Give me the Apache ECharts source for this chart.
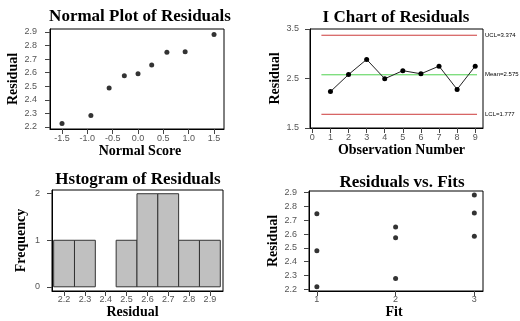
<!DOCTYPE html>
<html><head><meta charset="utf-8">
<script src="https://cdn.jsdelivr.net/npm/echarts@6/dist/echarts.min.js"></script>
<style>html,body{margin:0;padding:0;background:#fff}#c{width:520px;height:321px}</style>
</head><body><div id="c"></div>
<script>
// ---- Data ----
const normalScores = [-1.5, -0.93, -0.57, -0.27, 0, 0.27, 0.57, 0.93, 1.5];
const sortedResiduals = [2.225, 2.285, 2.487, 2.578, 2.592, 2.657, 2.75, 2.755, 2.882];
const observationNumbers = [1, 2, 3, 4, 5, 6, 7, 8, 9];
const residualsByObs = [2.235, 2.58, 2.885, 2.495, 2.658, 2.595, 2.75, 2.28, 2.75];
const controlLimits = [
  { name: 'UCL', value: 3.374, from: 0.5, to: 9.1 },
  { name: 'Mean', value: 2.575, from: 0.5, to: 9.1 },
  { name: 'LCL', value: 1.777, from: 0.5, to: 9.1 }
];
const histBins = [2.2, 2.3, 2.4, 2.5, 2.6, 2.7, 2.8, 2.9];
const histCounts = [1, 1, 0, 1, 2, 2, 1, 1];
const binWidth = 0.1;
const fits = [1, 2, 3, 1, 2, 3, 1, 2, 3];
const fitResiduals = [2.219, 2.573, 2.883, 2.479, 2.652, 2.585, 2.748, 2.279, 2.753];

const normalTicks = [-1.5, -1.0, -0.5, 0.0, 0.5, 1.0, 1.5];
const residualTicks = [2.2, 2.3, 2.4, 2.5, 2.6, 2.7, 2.8, 2.9];
const obsTicks = [0, 1, 2, 3, 4, 5, 6, 7, 8, 9];
const iChartYTicks = [1.5, 2.5, 3.5];
const freqTicks = [0, 1, 2];
const fitTicks = [1, 2, 3];

// ---- Styles ----
const serif = 'Liberation Serif';
const sans = 'Liberation Sans';
const titleStyle = { fontFamily: serif, fontWeight: 'bold', fontSize: 17, color: '#000' };
const nameStyle = { fontFamily: serif, fontWeight: 'bold', fontSize: 14, color: '#000' };

function fmt1(v) { return (Math.round(v * 10) / 10).toFixed(1); }

function axis(opts) {
  return {
    type: 'value',
    gridIndex: opts.grid,
    min: opts.min, max: opts.max,
    name: opts.name,
    nameLocation: 'middle',
    nameGap: opts.nameGap,
    nameTextStyle: Object.assign({}, nameStyle, opts.nameTextStyle || {}),
    splitLine: { show: false },
    axisLine: { show: true, onZero: false, lineStyle: { color: '#000', width: 1 } },
    axisTick: { show: true, inside: false, length: 5, customValues: opts.ticks, lineStyle: { color: '#444' } },
    axisLabel: {
      show: true, customValues: opts.ticks, margin: opts.margin,
      fontFamily: sans, fontSize: 9, color: '#555',
      formatter: opts.formatter || (v => String(v)),
      showMinLabel: true, showMaxLabel: true
    }
  };
}

const grids = [
  { left: 50, top: 29, width: 174, height: 100 },
  { left: 310, top: 29, width: 173, height: 99 },
  { left: 52, top: 190, width: 171, height: 101 },
  { left: 309, top: 191, width: 174, height: 100 }
].map(g => Object.assign({ show: true, borderColor: '#000', borderWidth: 1, backgroundColor: 'transparent',
  containLabel: false, outerBoundsMode: 'none' }, g));

const xAxes = [
  axis({ grid: 0, min: -1.737, max: 1.697, ticks: normalTicks, name: 'Normal Score', nameGap: 12, margin: 5, formatter: fmt1, nameTextStyle: { padding: [0, 0, 0, 6] } }),
  axis({ grid: 1, min: -0.13, max: 9.43, ticks: obsTicks, name: 'Observation Number', nameGap: 13, margin: 5, nameTextStyle: { padding: [0, 0, 0, 10] } }),
  axis({ grid: 2, min: 2.142, max: 2.963, ticks: residualTicks, name: 'Residual', nameGap: 13, margin: 4, formatter: fmt1, nameTextStyle: { padding: [0, 10, 0, 0] } }),
  axis({ grid: 3, min: 0.9, max: 3.11, ticks: fitTicks, name: 'Fit', nameGap: 13, margin: 4, nameTextStyle: { padding: [0, 4, 0, 0] } })
];
const yAxes = [
  axis({ grid: 0, min: 2.185, max: 2.922, ticks: residualTicks, name: 'Residual', nameGap: 30, margin: 13, formatter: fmt1 }),
  axis({ grid: 1, min: 1.5, max: 3.5, ticks: iChartYTicks, name: 'Residual', nameGap: 28, margin: 11, formatter: fmt1 }),
  axis({ grid: 2, min: -0.09, max: 2.08, ticks: freqTicks, name: 'Frequency', nameGap: 24, margin: 12 }),
  axis({ grid: 3, min: 2.188, max: 2.912, ticks: residualTicks, name: 'Residual', nameGap: 28, margin: 12, formatter: fmt1 })
];

const titles = [
  { text: 'Normal Plot of Residuals', left: 140, top: 8 },
  { text: 'I Chart of Residuals', left: 396, top: 9 },
  { text: 'Hstogram of Residuals', left: 138, top: 171 },
  { text: 'Residuals vs. Fits', left: 402, top: 174 }
].map(t => Object.assign({ textAlign: 'center', textStyle: titleStyle, padding: 0 }, t));

const dot = { symbol: 'circle', symbolSize: 5, itemStyle: { color: '#000' } };

const series = [
  Object.assign({ type: 'scatter', xAxisIndex: 0, yAxisIndex: 0,
    data: normalScores.map((s, i) => [s, sortedResiduals[i]]) }, dot),
  {
    type: 'line', xAxisIndex: 1, yAxisIndex: 1,
    data: observationNumbers.map((o, i) => [o, residualsByObs[i]]),
    symbol: 'circle', symbolSize: 5, showSymbol: true,
    itemStyle: { color: '#000' }, lineStyle: { color: '#222', width: 1 }, z: 5
  },
  ...controlLimits.map(l => ({
    type: 'line', xAxisIndex: 1, yAxisIndex: 1,
    data: [[l.from, l.value], [l.to, l.value]],
    symbol: 'none', silent: true,
    lineStyle: { color: l.name === 'Mean' ? '#4fd14f' : '#cc3b3b', width: 1 },
    endLabel: { show: true, formatter: l.name + '=' + l.value, distance: 8,
      fontFamily: sans, fontSize: 6, color: '#000' },
    z: 3
  })),
  {
    type: 'custom', xAxisIndex: 2, yAxisIndex: 2,
    data: histBins.map((b, i) => [b, histCounts[i]]),
    renderItem: function (params, api) {
      const x = api.value(0), c = api.value(1);
      if (!c) return null;
      const p0 = api.coord([x - binWidth / 2, c]);
      const p1 = api.coord([x + binWidth / 2, 0]);
      return { type: 'rect', shape: { x: p0[0], y: p0[1], width: p1[0] - p0[0], height: p1[1] - p0[1] },
        style: { fill: '#c0c0c0', stroke: '#333', lineWidth: 1 } };
    }
  },
  Object.assign({ type: 'scatter', xAxisIndex: 3, yAxisIndex: 3,
    data: fits.map((f, i) => [f, fitResiduals[i]]) }, dot)
];

const chart = echarts.init(document.getElementById('c'), null, { renderer: 'canvas' });
chart.setOption({
  animation: false,
  backgroundColor: '#fff',
  title: titles,
  grid: grids,
  xAxis: xAxes,
  yAxis: yAxes,
  series: series
});
</script>
</body></html>
